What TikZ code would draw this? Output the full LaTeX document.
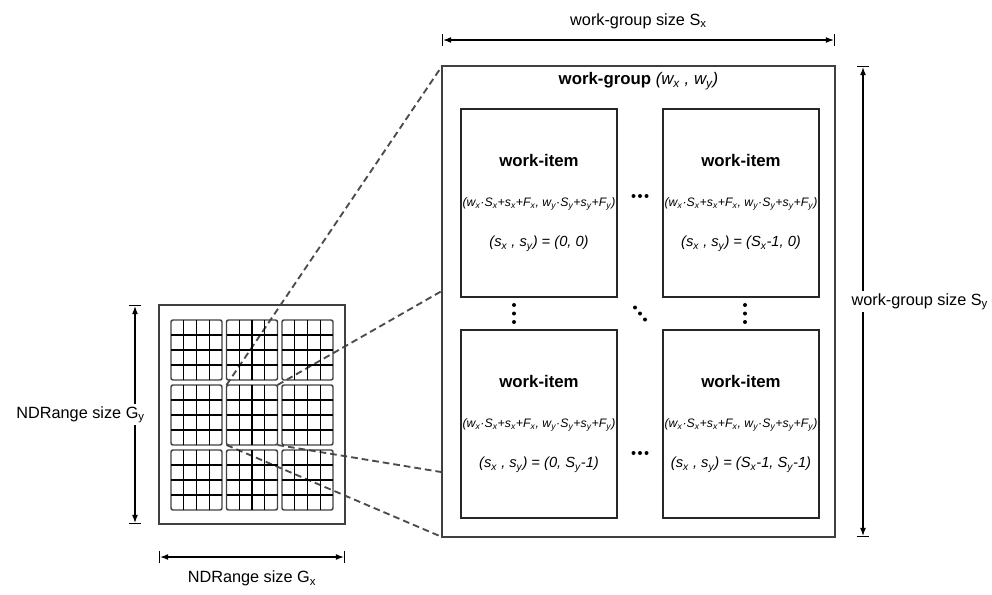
\documentclass[tikz,border=0pt]{standalone}
\usepackage{fontspec}
\setmainfont{Liberation Sans}
\usepackage{tikz}
\usetikzlibrary{arrows.meta}
\usetikzlibrary{calc}
\usetikzlibrary{positioning}
\usetikzlibrary{backgrounds}
\colorlet{lgray}{black!75}
\newcommand\wsub[1]{\textsubscript{#1}}
\newcommand\wdot{\textperiodcentered}
\newcommand\itemtext[1]{{\bfseries\fontsize{12.6}{14}\selectfont work-item}\\
  {\itshape\fontsize{9.2}{10}\selectfont (w\wsub{x}\wdot S\wsub{x}+s\wsub{x}+F\wsub{x}, w\wsub{y}\wdot S\wsub{y}+s\wsub{y}+F\wsub{y})}\\
  {\itshape\fontsize{11}{13}\selectfont (s\wsub{x} , s\wsub{y}) = #1}}
\tikzstyle{zoomed}=[dashed,dash pattern=on 5pt off 3pt,line width=1.4pt,black!70]
\tikzstyle{dimhead}=[>/.tip={Latex[length=6pt,width=4.5pt]},|/.tip={Bar[width=9pt,line width=.9pt]}]
\tikzstyle{dim}=[line width=.8pt,dimhead,|<->|]
\tikzstyle{dimlabel}=[fill=white,inner sep=2pt,font=\fontsize{12.2}{15}\selectfont]
\tikzstyle{wgbox}=[draw=lgray,line width=1.1pt,fill=white,minimum width=294.75pt,minimum height=353.25pt,outer sep=0pt]
\tikzstyle{itembox}=[draw=black!85,line width=1.4pt,minimum width=117pt,minimum height=141pt,align=center,inner sep=0pt,outer sep=0pt,font=\fontsize{12}{30}\selectfont]
\tikzstyle{block}=[draw=lgray,line width=1.1pt,rounded corners=1.5pt,minimum width=38.25pt,minimum height=45pt,outer sep=0pt]
\tikzstyle{cell}=[line width=.95pt]

\begin{document}
\begin{tikzpicture}[x=.75pt,y=-.75pt]
	\useasboundingbox (0,0) rectangle (992,594);
	% NDRange with its 3x3 work-groups
	\node[draw=lgray,line width=1.1pt,minimum width=139.5pt,minimum height=164.25pt,outer sep=0pt] (ndr) at (252,414.5) {};
	\foreach \r in {1,2,3}
	  \foreach \c in {1,2,3} {
	    \node[block] (g-\r-\c) at ({196.5+55.5*(\c-1)},{350+65*(\r-1)}) {};
	    \foreach \k in {1,2,3} {
	      \draw[cell] ($(g-\r-\c.north west)!\k/4!(g-\r-\c.north east)$) -- ($(g-\r-\c.south west)!\k/4!(g-\r-\c.south east)$);
	      \draw[cell] ($(g-\r-\c.north west)!\k/4!(g-\r-\c.south west)$) -- ($(g-\r-\c.north east)!\k/4!(g-\r-\c.south east)$);
	    }
	  }
	\draw[dim] ([xshift=-18pt]ndr.north west) -- node[dimlabel,anchor=east,xshift=9.75pt] (gy) {NDRange size G\wsub{y}} ([xshift=-18pt]ndr.south west);
	\draw[dim] ([yshift=-24.75pt]ndr.south west) -- node[dimlabel,below=8pt] (gx) {NDRange size G\wsub{x}} ([yshift=-24.75pt]ndr.south east);
	% one work-group, zoomed in
	\node[wgbox] (wg) at (638.5,301.5) {};
	\node[below=1.5pt of wg.north,font=\fontsize{12.6}{14}\selectfont] (wgtitle) {\bfseries work-group \mdseries\itshape (w\wsub{x} , w\wsub{y})};
	\begin{pgfonlayer}{background}
	  \draw[zoomed] (g-2-2.north west) -- (wg.north west);
	  \draw[zoomed] (g-2-2.north east) -- (wg.north east);
	  \draw[zoomed] (g-2-2.south east) -- (wg.south east);
	  \draw[zoomed] (g-2-2.south west) -- (wg.south west);
	\end{pgfonlayer}
	\draw[dim] ([yshift=19.5pt]wg.north west) -- node[dimlabel,above=6pt] (sx) {work-group size S\wsub{x}} ([yshift=19.5pt]wg.north east);
	\draw[dim] ([xshift=21pt]wg.north east) -- node[dimlabel,anchor=west,xshift=-11pt] (sy) {work-group size S\wsub{y}} ([xshift=21pt]wg.south east);
	% work-items
	\node[itembox,below right=32.25pt and 14.25pt of wg.north west] (i11) {\itemtext{(0, 0)}};
	\node[itembox,right=34.5pt of i11] (i12) {\itemtext{(S\wsub{x}-1, 0)}};
	\node[itembox,below=24.75pt of i11] (i21) {\itemtext{(0, S\wsub{y}-1)}};
	\node[itembox,right=34.5pt of i21] (i22) {\itemtext{(S\wsub{x}-1, S\wsub{y}-1)}};
	% dots between the work-items
	\coordinate (hd1) at ($(i11.east)!.5!(i12.west)+(0,-7)$);
	\coordinate (hd2) at ($(i21.east)!.5!(i22.west)+(0,29)$);
	\coordinate (vd1) at ($(i11.south)!.5!(i21.north)+(-25,0)$);
	\coordinate (vd2) at ($(i12.south)!.5!(i22.north)+(4,0)$);
	\coordinate (dd) at ($(i11.south east)!.5!(i22.north west)$);
	\foreach \d in {-1,0,1} {
	  \fill ($(hd1)+(6.5*\d,0)$) circle (1.5pt);
	  \fill ($(hd2)+(6.5*\d,0)$) circle (1.5pt);
	  \fill ($(vd1)+(0,8.5*\d)$) circle (1.5pt);
	  \fill ($(vd2)+(0,8.5*\d)$) circle (1.5pt);
	  \fill ($(dd)+(5*\d,6*\d)$) circle (1.5pt);
	}
\end{tikzpicture}
\end{document}
